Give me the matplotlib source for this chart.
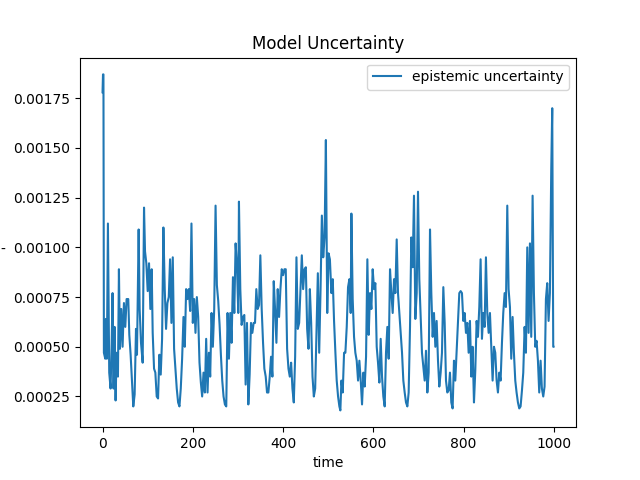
import numpy as np
import matplotlib
matplotlib.use('Agg')
import matplotlib.pyplot as plt

# time steps and epistemic uncertainty (x1e-4)
time = [0, 1, 2, 3, 6, 7.4, 9.6, 11.9, 14.8, 17.8, 20, 22.2, 24.4, 26.7, 28.9, 31.1, 34.1, 36.3, 38.5,
        41.5, 44.4, 47.4, 50.4, 53.3, 57, 59.3, 62.2, 65.2, 68.1, 71.1, 74.1, 76.3, 80, 82.2, 85.2,
        88.9, 91.9, 94.1, 97, 100, 103, 105.9, 108.9, 111.1, 114.1, 117, 120, 123, 125.9, 128.9,
        131.9, 134.8, 137.8, 140.7, 143.7, 146.7, 149.6, 152.6, 155.6, 158.5, 161.5, 164.4, 167.4,
        170.4, 173.3, 176.3, 179.3, 182.2, 185.2, 188.1, 191.1, 194.1, 197, 200, 203, 205.9, 208.9,
        211.9, 214.8, 217.8, 220.7, 223.7, 226.7, 229.6, 232.6, 235.6, 238.5, 241.5, 244.4, 247.4,
        250.4, 253.3, 256.3, 259.3, 262.2, 265.2, 268.1, 271.1, 274.1, 277, 280, 283, 285.9, 288.9,
        291.9, 294.8, 297.8, 300.7, 302.2, 305.2, 308.1, 311.1, 314.1, 317, 320, 323, 325.9, 328.9,
        331.9, 334.8, 337.8, 340.7, 343.7, 346.7, 349.6, 352.6, 355.6, 358.5, 361.5, 364.4, 367.4,
        370.4, 373.3, 376.3, 379.3, 382.2, 385.2, 388.1, 391.1, 394.1, 397, 400, 403, 405.9, 408.9,
        411.9, 414.8, 417.8, 420.7, 423.7, 426.7, 429.6, 432.6, 435.6, 438.5, 441.5, 444.4, 447.4,
        450.4, 453.3, 456.3, 459.3, 462.2, 465.2, 468.1, 471.1, 474.1, 477, 480, 483, 485.9, 488.9,
        491.9, 494.8, 497.8, 500.7, 503.7, 507, 510, 512.9, 515.9, 518.8, 521.8, 524.7, 526.9, 529.2,
        532.1, 535.1, 538, 541, 543.9, 546.9, 549.8, 551.3, 554.2, 557.2, 560.1, 563.1, 566.1, 569,
        572, 574.9, 577.9, 580.8, 583.8, 586.7, 589.7, 592.6, 595.6, 598.5, 601.5, 604.4, 607.4,
        610.3, 613.3, 616.2, 619.2, 622.1, 625.1, 628, 631, 633.9, 636.9, 639.9, 642.8, 645.8, 648.7,
        651.7, 654.6, 657.6, 660.5, 663.5, 666.4, 669.4, 672.3, 675.3, 678.2, 681.2, 684.1, 687.1,
        690, 693, 696, 698.9, 701.8, 704.8, 707.7, 710.7, 713.7, 716.6, 719.6, 722.5, 725.5, 728.4,
        731.4, 734.3, 737.3, 740.2, 743.2, 746.1, 749.1, 752, 755, 758, 760.9, 763.8, 766.8, 769.7,
        772.7, 775.6, 778.6, 781.5, 784.5, 787.5, 790.4, 793.4, 796.3, 799.3, 802.2, 805.2, 808.1,
        811.1, 814, 817, 819.9, 822.9, 825.8, 828.8, 831.7, 834.7, 837.6, 840.6, 843.5, 846.5, 849.4,
        852.4, 855.4, 858.3, 861.3, 864.2, 867.2, 870.1, 873.1, 876, 879, 881.9, 884.9, 887.8, 890.8,
        893.7, 896.7, 899.6, 902.6, 905.5, 908.5, 911.4, 914.4, 917.3, 920.3, 923.2, 926.2, 929.2,
        932.1, 935.1, 938, 941, 943.9, 946.9, 949.8, 952.8, 955.7, 958.7, 961.6, 964.6, 967.5, 970.5,
        973.4, 976.4, 979.3, 982.3, 985.2, 988.2, 991.1, 994.1, 996.3, 998.5, 999]

epistemic = [17.8, 18.7, 18.7, 4.7, 4.4, 6.4, 4.4, 11.2, 3.7, 2.9, 4.9, 7.7, 2.9, 6.0, 2.3, 4.7, 3.5, 8.9, 4.9,
             6.9, 5.0, 7.2, 6.0, 7.4, 7.4, 5.6, 4.6, 3.3, 2.0, 2.6, 5.9, 4.6, 10.9, 6.9, 5.2,
             4.2, 12.0, 9.8, 9.2, 7.8, 9.2, 6.9, 8.9, 5.7, 3.9, 3.7, 2.5, 2.4, 4.6, 3.6,
             5.4, 11.0, 7.9, 5.9, 7.2, 7.5, 9.4, 6.2, 9.5, 4.9, 3.9, 2.9, 2.2,
             2.0, 2.9, 4.4, 6.5, 5.0, 7.9, 7.4, 7.9, 6.8, 11.2, 6.2, 7.4, 5.7, 7.5,
             6.5, 4.2, 3.2, 2.5, 3.7, 2.7, 5.4, 2.7, 4.7, 3.5, 6.7, 5.0, 6.9,
             12.1, 8.1, 7.3, 6.1, 4.6, 3.3, 2.5, 2.1, 2.0, 6.7, 4.4, 6.7, 5.2, 8.5,
             6.7, 10.2, 9.1, 6.7, 12.3, 7.9, 6.1, 6.5, 6.6, 3.1, 6.2, 2.1, 3.6, 6.2,
             5.7, 6.2, 6.2, 7.9, 6.9, 7.1, 9.6, 6.9, 5.2, 3.9, 3.5, 2.7, 2.7,
             3.5, 4.5, 3.5, 8.3, 6.9, 5.2, 7.9, 6.5, 7.9, 8.9, 8.6, 8.9, 8.9, 4.9,
             3.9, 3.5, 4.2, 2.9, 2.2, 4.5, 9.5, 5.9, 6.2, 7.9, 9.6, 7.9, 8.9,
             9.0, 5.9, 4.9, 7.9, 6.2, 3.5, 2.5, 2.9, 5.9, 8.7, 4.7, 7.9, 11.6, 9.5,
             10.5, 15.4, 6.7, 9.7, 9.4, 7.7, 8.4, 6.3, 4.7, 3.3, 2.5, 2.0, 1.8, 3.3,
             2.7, 4.7, 4.7, 6.0, 8.0, 8.4, 6.7, 11.7, 7.4, 5.5, 4.7, 4.3, 3.3, 4.3,
             3.3, 2.1, 3.7, 3.0, 4.5, 9.4, 5.6, 7.7, 6.9, 8.9, 7.9, 8.2, 5.0,
             4.2, 3.2, 5.4, 3.5, 2.5, 2.0, 4.7, 6.0, 4.4, 8.9, 7.7, 6.7, 8.4, 7.7,
             10.4, 7.7, 6.7, 5.7, 4.7, 3.3, 2.7, 2.2, 2.0, 2.7, 6.0, 10.5, 9.0,
             12.6, 6.4, 7.7, 12.8, 8.4, 6.5, 4.7, 4.0, 3.3, 4.8, 2.7, 3.7, 10.9, 7.7,
             5.5, 6.7, 5.0, 6.3, 4.3, 3.0, 3.7, 4.7, 8.0, 6.2, 3.3, 2.7, 2.8, 3.7,
             2.2, 1.9, 4.3, 3.3, 4.8, 6.3, 7.7, 7.8, 7.7, 6.3, 6.7, 5.7, 6.2,
             4.7, 6.3, 3.5, 5.0, 2.2, 3.8, 6.3, 5.5, 7.0, 9.4, 5.4, 6.7, 6.0, 9.5,
             6.7, 5.7, 6.7, 5.0, 3.3, 5.0, 4.7, 3.3, 2.7, 3.7, 3.3, 5.2, 6.7, 7.7,
             7.0, 12.1, 7.9, 7.0, 4.4, 6.5, 4.7, 3.3, 2.7, 2.2, 1.9, 2.0, 2.8,
             3.7, 6.0, 4.7, 10.0, 5.7, 10.2, 5.5, 12.6, 7.7, 5.0, 5.3, 4.3, 2.7, 4.3,
             2.9, 2.5, 3.0, 7.4, 8.2, 6.3, 7.7, 13.9, 17.0, 5.0, 5.0]

time = np.array(time)
epistemic = np.array(epistemic) * 1e-4

fig, ax = plt.subplots(figsize=(6.4, 4.8), dpi=100)
ax.plot(time, epistemic, label='epistemic uncertainty')
ax.set_title('Model Uncertainty')
ax.set_xlabel('time')
ax.legend(loc='upper right')
fig.text(0.001, 0.479, '-', va='center', ha='left')

plt.savefig('out.png')
